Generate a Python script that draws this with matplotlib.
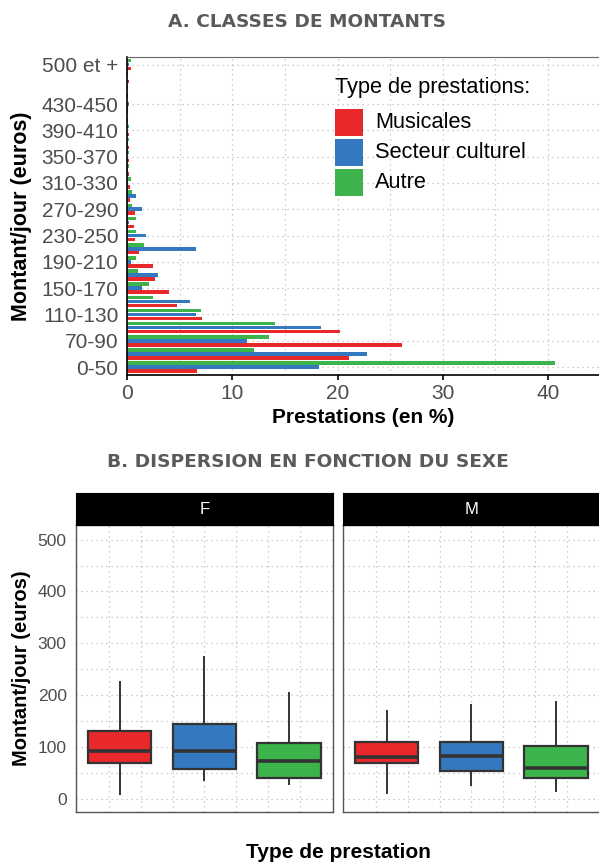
import matplotlib.pyplot as plt
from matplotlib.patches import Rectangle
import numpy as np

# --- data ---
classes = ['0-50', '50-70', '70-90', '90-110', '110-130', '130-150', '150-170', '170-190',
           '190-210', '210-230', '230-250', '250-270', '270-290', '290-310', '310-330',
           '330-350', '350-370', '370-390', '390-410', '410-430', '430-450', '450-470',
           '470-500', '500 et +']
shown = ['0-50', '70-90', '110-130', '150-170', '190-210', '230-250', '270-290',
         '310-330', '350-370', '390-410', '430-450', '500 et +']

musicales = [6.66, 21.1, 26.1, 20.2, 7.07, 4.75, 4.0, 2.6, 2.47, 1.08, 0.7, 0.63, 0.7,
             0.26, 0.26, 0.15, 0.15, 0.15, 0.12, 0.1, 0.05, 0.1, 0.2, 0.35]
secteur = [18.26, 22.8, 11.4, 18.4, 6.5, 6.0, 1.4, 2.9, 0.38, 6.5, 1.77, 0.13, 1.37,
           0.8, 0.05, 0.05, 0.0, 0.05, 0.0, 0.0, 0.15, 0.0, 0.0, 0.2]
autre = [40.7, 12.0, 13.5, 14.0, 6.97, 2.4, 2.06, 1.0, 0.8, 1.58, 0.8, 0.8, 0.48,
         0.42, 0.35, 0.15, 0.15, 0.2, 0.15, 0.1, 0.0, 0.1, 0.1, 0.35]

types = ['Musicales', 'Secteur culturel', 'Autre']
colors = ['#E9282B', '#3479BF', '#3CB44B']

sexes = ['F', 'M']
whislo = {'F': [9.6, 37, 29.5], 'M': [11.6, 27.6, 16]}
q1 = {'F': [69, 58.4, 41.6], 'M': [69.4, 55, 41.6]}
med = {'F': [93.6, 93.6, 74.4], 'M': [82, 83.4, 59.7]}
q3 = {'F': [132, 145.7, 108], 'M': [109.8, 109.8, 102.7]}
whishi = {'F': [226.6, 274.8, 204], 'M': [170, 181.7, 187]}

plt.rcParams['font.family'] = ['Liberation Sans', 'DejaVu Sans']

W, H = 599, 863
fig = plt.figure(figsize=(W / 100, H / 100), dpi=100)


def px(l, t, r, b):
    return [l / W, 1 - b / H, (r - l) / W, (b - t) / H]


grid_kw = dict(color='#BDBDBD', linestyle=(0, (1, 3)), linewidth=0.9)
tick_col = '#4D4D4D'

# ---------------- A. horizontal bars ----------------
ax = fig.add_axes(px(127.3, 56.7, 599, 375))
y = np.arange(len(classes))
ax.barh(y - 0.3, musicales, 0.27, color=colors[0], label=types[0])
ax.barh(y, secteur, 0.27, color=colors[1], label=types[1])
ax.barh(y + 0.3, autre, 0.27, color=colors[2], label=types[2])
ax.set_xlim(0, 44.84)
ax.set_ylim(-0.6, 23.6)
ax.set_yticks([classes.index(s) for s in shown])
ax.set_yticklabels(shown)
ax.set_xticks([0, 10, 20, 30, 40])
ax.set_xticks([5, 15, 25, 35], minor=True)
ax.tick_params(axis='y', length=0, pad=6.5, labelsize=15, labelcolor=tick_col)
ax.tick_params(axis='x', which='major', length=3.5, width=1.2, pad=3,
               labelsize=15, labelcolor=tick_col)
ax.tick_params(axis='x', which='minor', length=0)
ax.grid(axis='x', which='both', **grid_kw)
ax.grid(axis='y', which='major', **grid_kw)
ax.set_axisbelow(True)
ax.spines['right'].set_visible(False)
ax.spines['top'].set_color('#666666')
ax.spines['left'].set_linewidth(1.2)
ax.spines['bottom'].set_linewidth(1.2)

# legend drawn as key squares + labels
fig.text(335 / W, 1 - 87 / H, 'Type de prestations:', ha='left', va='center',
         fontsize=15.7)
for i, (name, c) in enumerate(zip(types, colors)):
    top = 109 + 30 * i
    fig.add_artist(Rectangle((335 / W, 1 - (top + 27) / H), 28 / W, 27 / H,
                             transform=fig.transFigure, facecolor=c, edgecolor='none'))
    fig.text(375 / W, 1 - (top + 13.5) / H, name, ha='left', va='center', fontsize=15.7)

fig.text(22 / W, 1 - 216 / H, 'Montant/jour (euros)', rotation=90, ha='center',
         va='center', fontsize=15.5, fontweight='bold')
fig.text(363 / W, 1 - 417 / H, 'Prestations (en %)', ha='center', va='center',
         fontsize=15, fontweight='bold')

# ---------------- B. box plots by sex ----------------
lefts = {'F': 76.4, 'M': 343.3}
for s in sexes:
    l = lefts[s]
    bx = fig.add_axes(px(l, 525, l + 257, 811.7))
    stats = [dict(whislo=whislo[s][i], q1=q1[s][i], med=med[s][i], q3=q3[s][i],
                  whishi=whishi[s][i], label=types[i]) for i in range(3)]
    parts = bx.bxp(stats, positions=[1, 2, 3], widths=0.75, patch_artist=True,
                   showfliers=False, showcaps=False,
                   boxprops=dict(edgecolor='#333333', linewidth=1.6),
                   medianprops=dict(color='#333333', linewidth=2.6),
                   whiskerprops=dict(color='#333333', linewidth=1.4))
    for patch, c in zip(parts['boxes'], colors):
        patch.set_facecolor(c)
    bx.set_xlim(0.49, 3.52)
    bx.set_ylim(-24, 528)
    bx.set_yticks([0, 100, 200, 300, 400, 500])
    bx.set_yticks([50, 150, 250, 350, 450], minor=True)
    bx.set_xticks([1.25, 2, 2.75])
    bx.set_xticks([0.875, 1.625, 2.375, 3.125], minor=True)
    bx.set_xticklabels([])
    bx.tick_params(axis='both', which='both', length=0)
    bx.tick_params(axis='y', labelsize=12.6, labelcolor=tick_col, pad=7)
    if s == 'M':
        bx.set_yticklabels([])
    bx.grid(which='both', **grid_kw)
    bx.set_axisbelow(True)
    for sp in bx.spines.values():
        sp.set_color('#555555')
        sp.set_linewidth(1.0)

    st = fig.add_axes(px(l, 493, l + 257, 525))
    st.set_facecolor('black')
    st.set_xticks([])
    st.set_yticks([])
    st.text(0.5, 0.5, s, color='white', ha='center', va='center', fontsize=12,
            transform=st.transAxes)

fig.text(22 / W, 1 - 668 / H, 'Montant/jour (euros)', rotation=90, ha='center',
         va='center', fontsize=14.5, fontweight='bold')
fig.text(338 / W, 1 - 852 / H, 'Type de prestation', ha='center', va='center',
         fontsize=15, fontweight='bold')

# ---------------- section titles ----------------
fig.text(307.5 / W, 1 - 21.7 / H, 'A. CLASSES DE MONTANTS', ha='center', va='center',
         color='#5A5A5A', fontsize=13.3, fontweight='bold', family=['DejaVu Sans'])
fig.text(307.5 / W, 1 - 462.3 / H, 'B. DISPERSION EN FONCTION DU SEXE', ha='center',
         va='center', color='#5A5A5A', fontsize=13.3, fontweight='bold',
         family=['DejaVu Sans'])

fig.savefig('out.png', dpi=100)
